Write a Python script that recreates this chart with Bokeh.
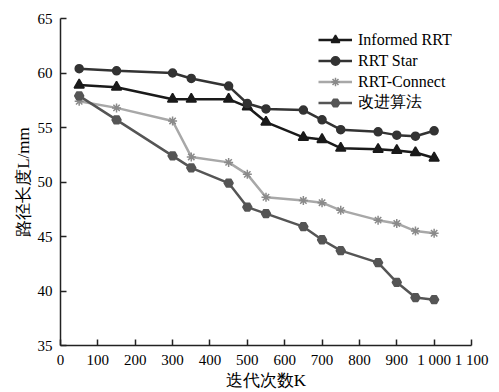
from bokeh.plotting import figure
from bokeh.models import Range1d, FixedTicker, Legend, LegendItem
from bokeh.embed import file_html
from bokeh.resources import INLINE

iterations = [50, 150, 300, 350, 450, 500, 550, 650, 700, 750, 850, 900, 950, 1000]
informed_rrt = [58.9, 58.7, 57.6, 57.6, 57.6, 56.9, 55.5, 54.1, 53.9, 53.1, 53.0, 52.9, 52.7, 52.2]
rrt_star = [60.4, 60.2, 60.0, 59.5, 58.8, 57.2, 56.7, 56.6, 55.7, 54.8, 54.6, 54.3, 54.2, 54.7]
rrt_connect = [57.4, 56.8, 55.6, 52.3, 51.8, 50.7, 48.6, 48.3, 48.1, 47.4, 46.5, 46.2, 45.5, 45.3]
improved = [57.9, 55.7, 52.4, 51.3, 49.9, 47.7, 47.1, 45.9, 44.7, 43.7, 42.6, 40.8, 39.4, 39.2]

x_ticks = [0, 100, 200, 300, 400, 500, 600, 700, 800, 900, 1000, 1100]
y_ticks = [35, 40, 45, 50, 55, 60, 65]

SERIF = "serif"

p = figure(width=499, height=392, output_backend="svg", toolbar_location=None,
           x_range=Range1d(0, 1100), y_range=Range1d(35, 65),
           min_border_left=60, min_border_right=28, min_border_top=18, min_border_bottom=44)
p.outline_line_color = None
p.xgrid.visible = False
p.ygrid.visible = False

series = [
    ("Informed RRT", informed_rrt, "#1a1a1a", "triangle", 10, "#1a1a1a"),
    ("RRT Star", rrt_star, "#333333", "circle", 8, "#333333"),
    ("RRT-Connect", rrt_connect, "#a8a8a8", "asterisk", 9, "#8a8a8a"),
    ("改进算法", improved, "#555555", "hex", 9, "#555555"),
]
items = []
for name, ys, lc, mk, ms, mc in series:
    r1 = p.line(iterations, ys, line_color=lc, line_width=2.5)
    r2 = p.scatter(iterations, ys, marker=mk, size=ms, fill_color=mc, line_color=mc, line_width=1.5)
    items.append(LegendItem(label=name, renderers=[r1, r2]))

legend = Legend(items=items, location=(258, 232), border_line_color=None,
                background_fill_alpha=0, padding=0, margin=0, spacing=0,
                glyph_width=34, glyph_height=21, label_standoff=6,
                label_text_font=SERIF, label_text_font_size="16px", label_text_color="#000000")
p.add_layout(legend)

for ax in (p.xaxis[0], p.yaxis[0]):
    ax.axis_line_color = "#222222"
    ax.axis_line_width = 1.5
    ax.major_tick_line_color = "#222222"
    ax.major_tick_line_width = 1.5
    ax.minor_tick_line_color = None
    ax.major_tick_in = 6
    ax.major_tick_out = 0
    ax.major_label_text_font = SERIF
    ax.major_label_text_font_size = "15px"
    ax.major_label_text_color = "#000000"
    ax.axis_label_text_font = SERIF
    ax.axis_label_text_font_size = "17px"
    ax.axis_label_text_font_style = "normal"
    ax.axis_label_text_color = "#000000"

p.xaxis.ticker = FixedTicker(ticks=x_ticks)
p.xaxis.major_label_overrides = {1000: "1 000", 1100: "1 100"}
p.xaxis.major_label_standoff = 6
p.xaxis.axis_label = "迭代次数K"
p.xaxis.axis_label_standoff = 0
p.yaxis.ticker = FixedTicker(ticks=y_ticks)
p.yaxis.major_label_standoff = 8
p.yaxis.axis_label = "路径长度L/mm"
p.yaxis.axis_label_standoff = 2

open("out.html", "w").write(file_html(p, INLINE))
